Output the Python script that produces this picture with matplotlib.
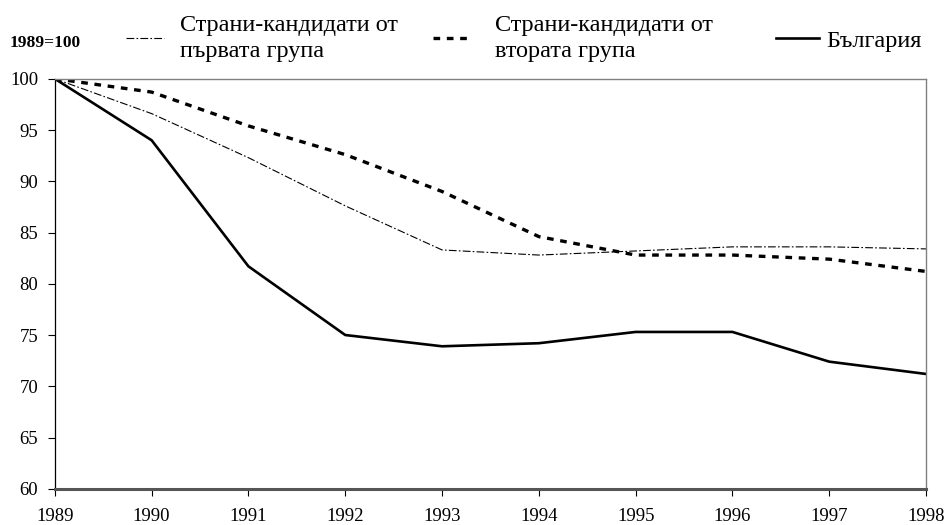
import matplotlib.pyplot as plt

years = [1989, 1990, 1991, 1992, 1993, 1994, 1995, 1996, 1997, 1998]
group1 = [100, 96.6, 92.3, 87.6, 83.3, 82.8, 83.2, 83.6, 83.6, 83.4]
group2 = [100, 98.7, 95.4, 92.6, 89.0, 84.6, 82.8, 82.8, 82.4, 81.2]
bulgaria = [100, 94.0, 81.7, 75.0, 73.9, 74.2, 75.3, 75.3, 72.4, 71.2]
labels = ['Страни-кандидати от\nпървата група',
          'Страни-кандидати от\nвтората група',
          'България']

plt.rcParams['font.family'] = ['Liberation Serif', 'DejaVu Serif']

fig = plt.figure(figsize=(9.45, 5.25), dpi=100)
ax = fig.add_axes([0.058, 0.069, 0.922, 0.781])

l1, = ax.plot(years, group1, color='black', lw=0.8, dashes=(7, 2, 1.5, 2))
l2, = ax.plot(years, group2, color='black', lw=2.4, dashes=(2, 2))
l3, = ax.plot(years, bulgaria, color='black', lw=1.9)

ax.set_xlim(1989, 1998)
ax.set_ylim(60, 100)
ax.set_xticks(years)
ax.set_yticks(range(60, 101, 5))
ax.tick_params(axis='both', labelsize=13.5, length=5, width=0.8)
ax.tick_params(axis='x', pad=9)
ax.tick_params(axis='y', pad=7)

for side in ['top', 'right']:
    ax.spines[side].set_color('#808080')
    ax.spines[side].set_linewidth(1.0)
ax.spines['bottom'].set_color('#555555')
ax.spines['bottom'].set_linewidth(2.2)
ax.spines['left'].set_linewidth(0.9)

fig.text(0.010, 0.918, '1989=100', fontsize=12.5, fontweight='bold', va='center')

# three legend entries, each placed where the reference has it
spots = [(0.133, 0.926, 1.56, 0.66), (0.458, 0.926, 1.6, 0.95), (0.821, 0.922, 1.77, 0.29)]
for h, lab, (x, y, hl, pad) in zip([l1, l2, l3], labels, spots):
    leg = fig.legend([h], [lab], loc='center left', bbox_to_anchor=(x, y),
                     frameon=False, fontsize=17.5, handlelength=hl,
                     handletextpad=pad, borderpad=0, borderaxespad=0)
    for t in leg.get_texts():
        t.set_linespacing(1.3)

fig.savefig('out.png', dpi=100)
